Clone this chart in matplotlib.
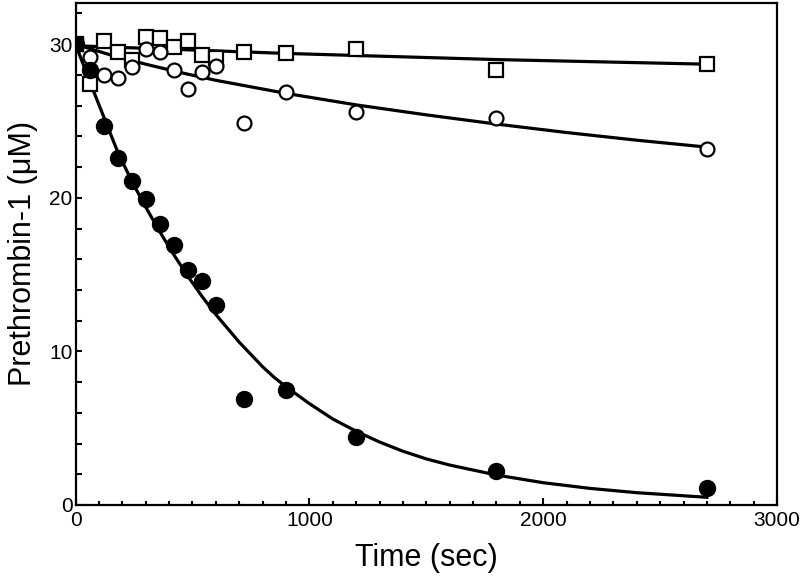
#!/usr/bin/env python3
# prethrombin-1 consumption vs time -- points + fitted curves

import matplotlib
matplotlib.use("Agg")
import matplotlib.pyplot as plt
from matplotlib.ticker import MultipleLocator

plt.rcParams['font.family'] = ['Liberation Sans', 'DejaVu Sans']

# ---- data ----
t_pts = [0, 60, 120, 180, 240, 300, 360, 420, 480, 540, 600, 720, 900, 1200, 1800, 2700]

filled = [30.0, 28.3, 24.7, 22.6, 21.1, 19.9, 18.3, 16.9, 15.3, 14.6, 13.0,
          6.9, 7.5, 4.4, 2.2, 1.1]
open_circ = [30.0, 29.2, 28.0, 27.8, 28.5, 29.7, 29.5, 28.3, 27.1, 28.2, 28.6,
             24.9, 26.9, 25.6, 25.2, 23.2]
open_sq = [30.0, 27.4, 30.2, 29.5, 29.0, 30.5, 30.4, 29.8, 30.2, 29.3, 29.1,
           29.5, 29.4, 29.7, 28.3, 28.7]

# fitted curves
t_fit_filled = [0, 60, 120, 180, 240, 300, 360, 420, 480, 540, 600, 650, 700, 750, 800,
                850, 900, 1000, 1100, 1200, 1300, 1400, 1500, 1600, 1800, 2000, 2200,
                2400, 2700]
fit_filled = [30.0, 27.6, 25.3, 23.0, 21.1, 19.4, 17.8, 16.3, 14.9, 13.6, 12.4, 11.5,
              10.6, 9.8, 9.0, 8.3, 7.7, 6.6, 5.6, 4.8, 4.1, 3.5, 3.0, 2.6, 1.95, 1.45,
              1.08, 0.8, 0.5]

t_fit_circ = [0, 150, 300, 450, 600, 900, 1200, 1500, 1800, 2100, 2400, 2700]
fit_circ = [30.0, 29.3, 28.7, 28.15, 27.65, 26.8, 26.05, 25.4, 24.8, 24.25, 23.75, 23.3]

t_fit_sq = [0, 900, 1800, 2700]
fit_sq = [29.9, 29.4, 29.0, 28.7]


def main():
    fig = plt.figure(figsize=(8, 5.84), dpi=100)
    ax = fig.add_axes([0.0944, 0.1353, 0.877, 0.86])

    lw_fit = 2.3
    ax.plot(t_fit_sq, fit_sq, color='k', lw=lw_fit, zorder=2)
    ax.plot(t_fit_circ, fit_circ, color='k', lw=lw_fit, zorder=2)
    ax.plot(t_fit_filled, fit_filled, color='k', lw=lw_fit, zorder=2)

    ax.plot(t_pts, open_sq, 's', ms=10, mfc='white', mec='k', mew=1.6,
            ls='none', zorder=3)
    ax.plot(t_pts, open_circ, 'o', ms=10, mfc='white', mec='k', mew=1.6,
            ls='none', zorder=4)
    ax.plot(t_pts, filled, 'o', ms=11.5, mfc='k', mec='k', ls='none', zorder=5)
    # overlap at t = 0 shows as a solid square
    ax.plot(t_pts[:1], open_sq[:1], 's', ms=10, mfc='k', mec='k', zorder=6)

    ax.set_xlim(0, 3000)
    ax.set_ylim(0, 32.7)
    ax.xaxis.set_major_locator(MultipleLocator(1000))
    ax.xaxis.set_minor_locator(MultipleLocator(100))
    ax.yaxis.set_major_locator(MultipleLocator(10))
    ax.yaxis.set_minor_locator(MultipleLocator(2))
    ax.tick_params(which='both', direction='in', top=False, right=False,
                   labelsize=15, width=1.5)
    ax.tick_params(axis='x', which='major', length=5, pad=4)
    ax.tick_params(axis='x', which='minor', length=3)
    ax.tick_params(axis='y', which='major', length=4, pad=2)
    ax.tick_params(axis='y', which='minor', length=4)

    for s in ax.spines.values():
        s.set_linewidth(1.6)

    ax.set_xlabel("Time (sec)", fontsize=22, labelpad=10)
    ax.set_ylabel("Prethrombin-1 (\u03bcM)", fontsize=22, labelpad=8)

    fig.savefig("out.png", dpi=100)
    plt.close(fig)


if __name__ == "__main__":
    main()
